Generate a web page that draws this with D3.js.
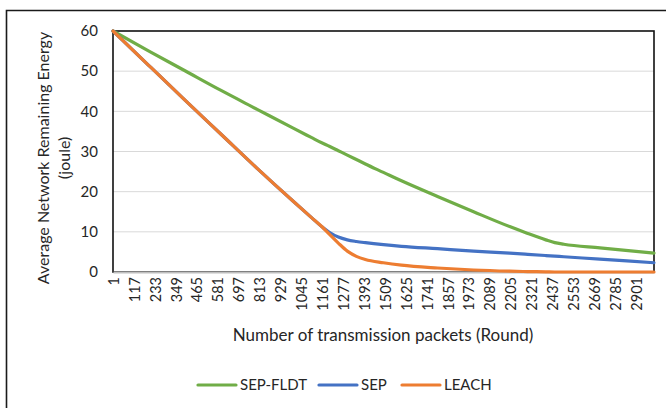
<!DOCTYPE html>
<html lang="en">
<head>
<meta charset="utf-8">
<script src="https://d3js.org/d3.v7.min.js"></script>
<style>
  body { margin: 0; background: #fff; }
  svg text { font-family: Lato, "Open Sans", sans-serif; fill: #262626; }
</style>
</head>
<body>
<div id="chart"></div>
<script>
    const rounds = [1, 200, 400, 600, 800, 1000, 1100, 1161, 1200, 1250, 1300, 1350, 1400, 1500, 1600, 1800, 2000, 2200, 2300, 2400, 2450, 2500, 2700, 3000];
    const sepFldt = [60, 55.0, 50.1, 45.2, 40.5, 35.8, 33.5, 32.1, 31.3, 30.2, 29.1, 28.0, 26.9, 24.8, 22.7, 18.8, 15.0, 11.3, 9.6, 8.0, 7.3, 6.9, 6.0, 4.7];
    const sep = [60, 51.4, 42.8, 34.3, 25.8, 17.6, 13.6, 11.2, 9.9, 8.7, 8.0, 7.6, 7.3, 6.8, 6.4, 5.8, 5.2, 4.7, 4.4, 4.1, 3.95, 3.8, 3.2, 2.3];
    const leach = [60, 51.4, 42.8, 34.3, 25.8, 17.6, 13.6, 11.2, 9.4, 7.2, 5.2, 3.9, 3.1, 2.3, 1.7, 1.0, 0.5, 0.2, 0.1, 0.05, 0, 0, 0, 0];
    const xTicks = [1, 117, 233, 349, 465, 581, 697, 813, 929, 1045, 1161, 1277, 1393, 1509, 1625, 1741, 1857, 1973, 2089, 2205, 2321, 2437, 2553, 2669, 2785, 2901];
    const yTicks = [0, 10, 20, 30, 40, 50, 60];

    const series = [
      {name: "SEP-FLDT", values: sepFldt, color: "#70ad47"},
      {name: "SEP", values: sep, color: "#4472c4"},
      {name: "LEACH", values: leach, color: "#ed7d31"}
    ];

    const W = 666, H = 408;
    const margin = {top: 31, right: 12, bottom: 136, left: 113};

    const svg = d3.select("#chart").append("svg")
      .attr("width", W)
      .attr("height", H);

    // outer frame (top and left edges visible)
    svg.append("path")
      .attr("d", "M6.5," + H + "V10.5H" + W)
      .attr("fill", "none")
      .attr("stroke", "#1a1a1a")
      .attr("stroke-width", 1.6);

    var x = d3.scaleLinear().domain([1, 3000]).range([margin.left, W - margin.right]);
    var y = d3.scaleLinear().domain([0, 60]).range([H - margin.bottom, margin.top]);

    // gridlines
    svg.append("g")
      .selectAll("line")
      .data(yTicks.slice(1, -1))
      .enter().append("line")
      .attr("x1", x.range()[0]).attr("x2", x.range()[1])
      .attr("y1", function(d) { return y(d); })
      .attr("y2", function(d) { return y(d); })
      .attr("stroke", "#d9d9d9")
      .attr("stroke-width", 1);

    // plot area border
    svg.append("rect")
      .attr("x", x.range()[0]).attr("y", y(60))
      .attr("width", x.range()[1] - x.range()[0])
      .attr("height", y(0) - y(60))
      .attr("fill", "none")
      .attr("stroke", "#111")
      .attr("stroke-width", 1.6);

    // Y axis labels
    var yAxis = svg.append("g")
      .attr("transform", "translate(" + (margin.left - 15) + ",0)")
      .call(d3.axisLeft(y).tickValues(yTicks).tickSize(0).tickPadding(0));
    yAxis.select(".domain").remove();
    yAxis.selectAll("text").style("font-size", "15px").attr("fill", "#262626");

    // X axis
    var xAxis = svg.append("g")
      .attr("transform", "translate(0," + y(0) + ")")
      .call(d3.axisBottom(x).tickValues(xTicks).tickSize(0).tickFormat(d3.format("d")));
    xAxis.select(".domain")
      .attr("stroke", "#bfbfbf")
      .attr("stroke-width", 2);
    xAxis.selectAll("text")
      .style("font-size", "14.5px")
      .attr("fill", "#262626")
      .attr("text-anchor", "end")
      .attr("transform", "rotate(-90)")
      .attr("x", -5)
      .attr("y", 0)
      .attr("dy", "0.36em");

    // lines
    var line = d3.line()
      .x(function(d, i) { return x(rounds[i]); })
      .y(function(d) { return y(d); })
      .curve(d3.curveMonotoneX);

    svg.append("g")
      .selectAll("path")
      .data(series)
      .enter().append("path")
      .attr("d", function(d) { return line(d.values); })
      .attr("fill", "none")
      .attr("stroke", function(d) { return d.color; })
      .attr("stroke-width", 3.2)
      .attr("stroke-linecap", "round")
      .attr("stroke-linejoin", "round");

    // axis titles
    svg.append("text")
      .attr("x", 383).attr("y", 341)
      .attr("text-anchor", "middle")
      .style("font-size", "17px")
      .text("Number of transmission packets (Round)");

    var yt = svg.append("text")
      .attr("transform", "translate(49,158) rotate(-90)")
      .attr("text-anchor", "middle")
      .style("font-size", "16px");
    yt.append("tspan").attr("x", 0).attr("y", 0).text("Average Network Remaining Energy");
    yt.append("tspan").attr("x", 0).attr("y", 21).text("(joule)");

    // legend
    var legendX = [198, 319, 402];
    var lg = svg.append("g")
      .selectAll("g")
      .data(series)
      .enter().append("g")
      .attr("transform", function(d, i) { return "translate(" + legendX[i] + ",385)"; });
    lg.append("line")
      .attr("x1", 0).attr("x2", 38)
      .attr("stroke", function(d) { return d.color; })
      .attr("stroke-width", 3.2)
      .attr("stroke-linecap", "round");
    lg.append("text")
      .attr("x", 42).attr("dy", "0.36em")
      .style("font-size", "15px")
      .text(function(d) { return d.name; });
</script>
</body>
</html>
